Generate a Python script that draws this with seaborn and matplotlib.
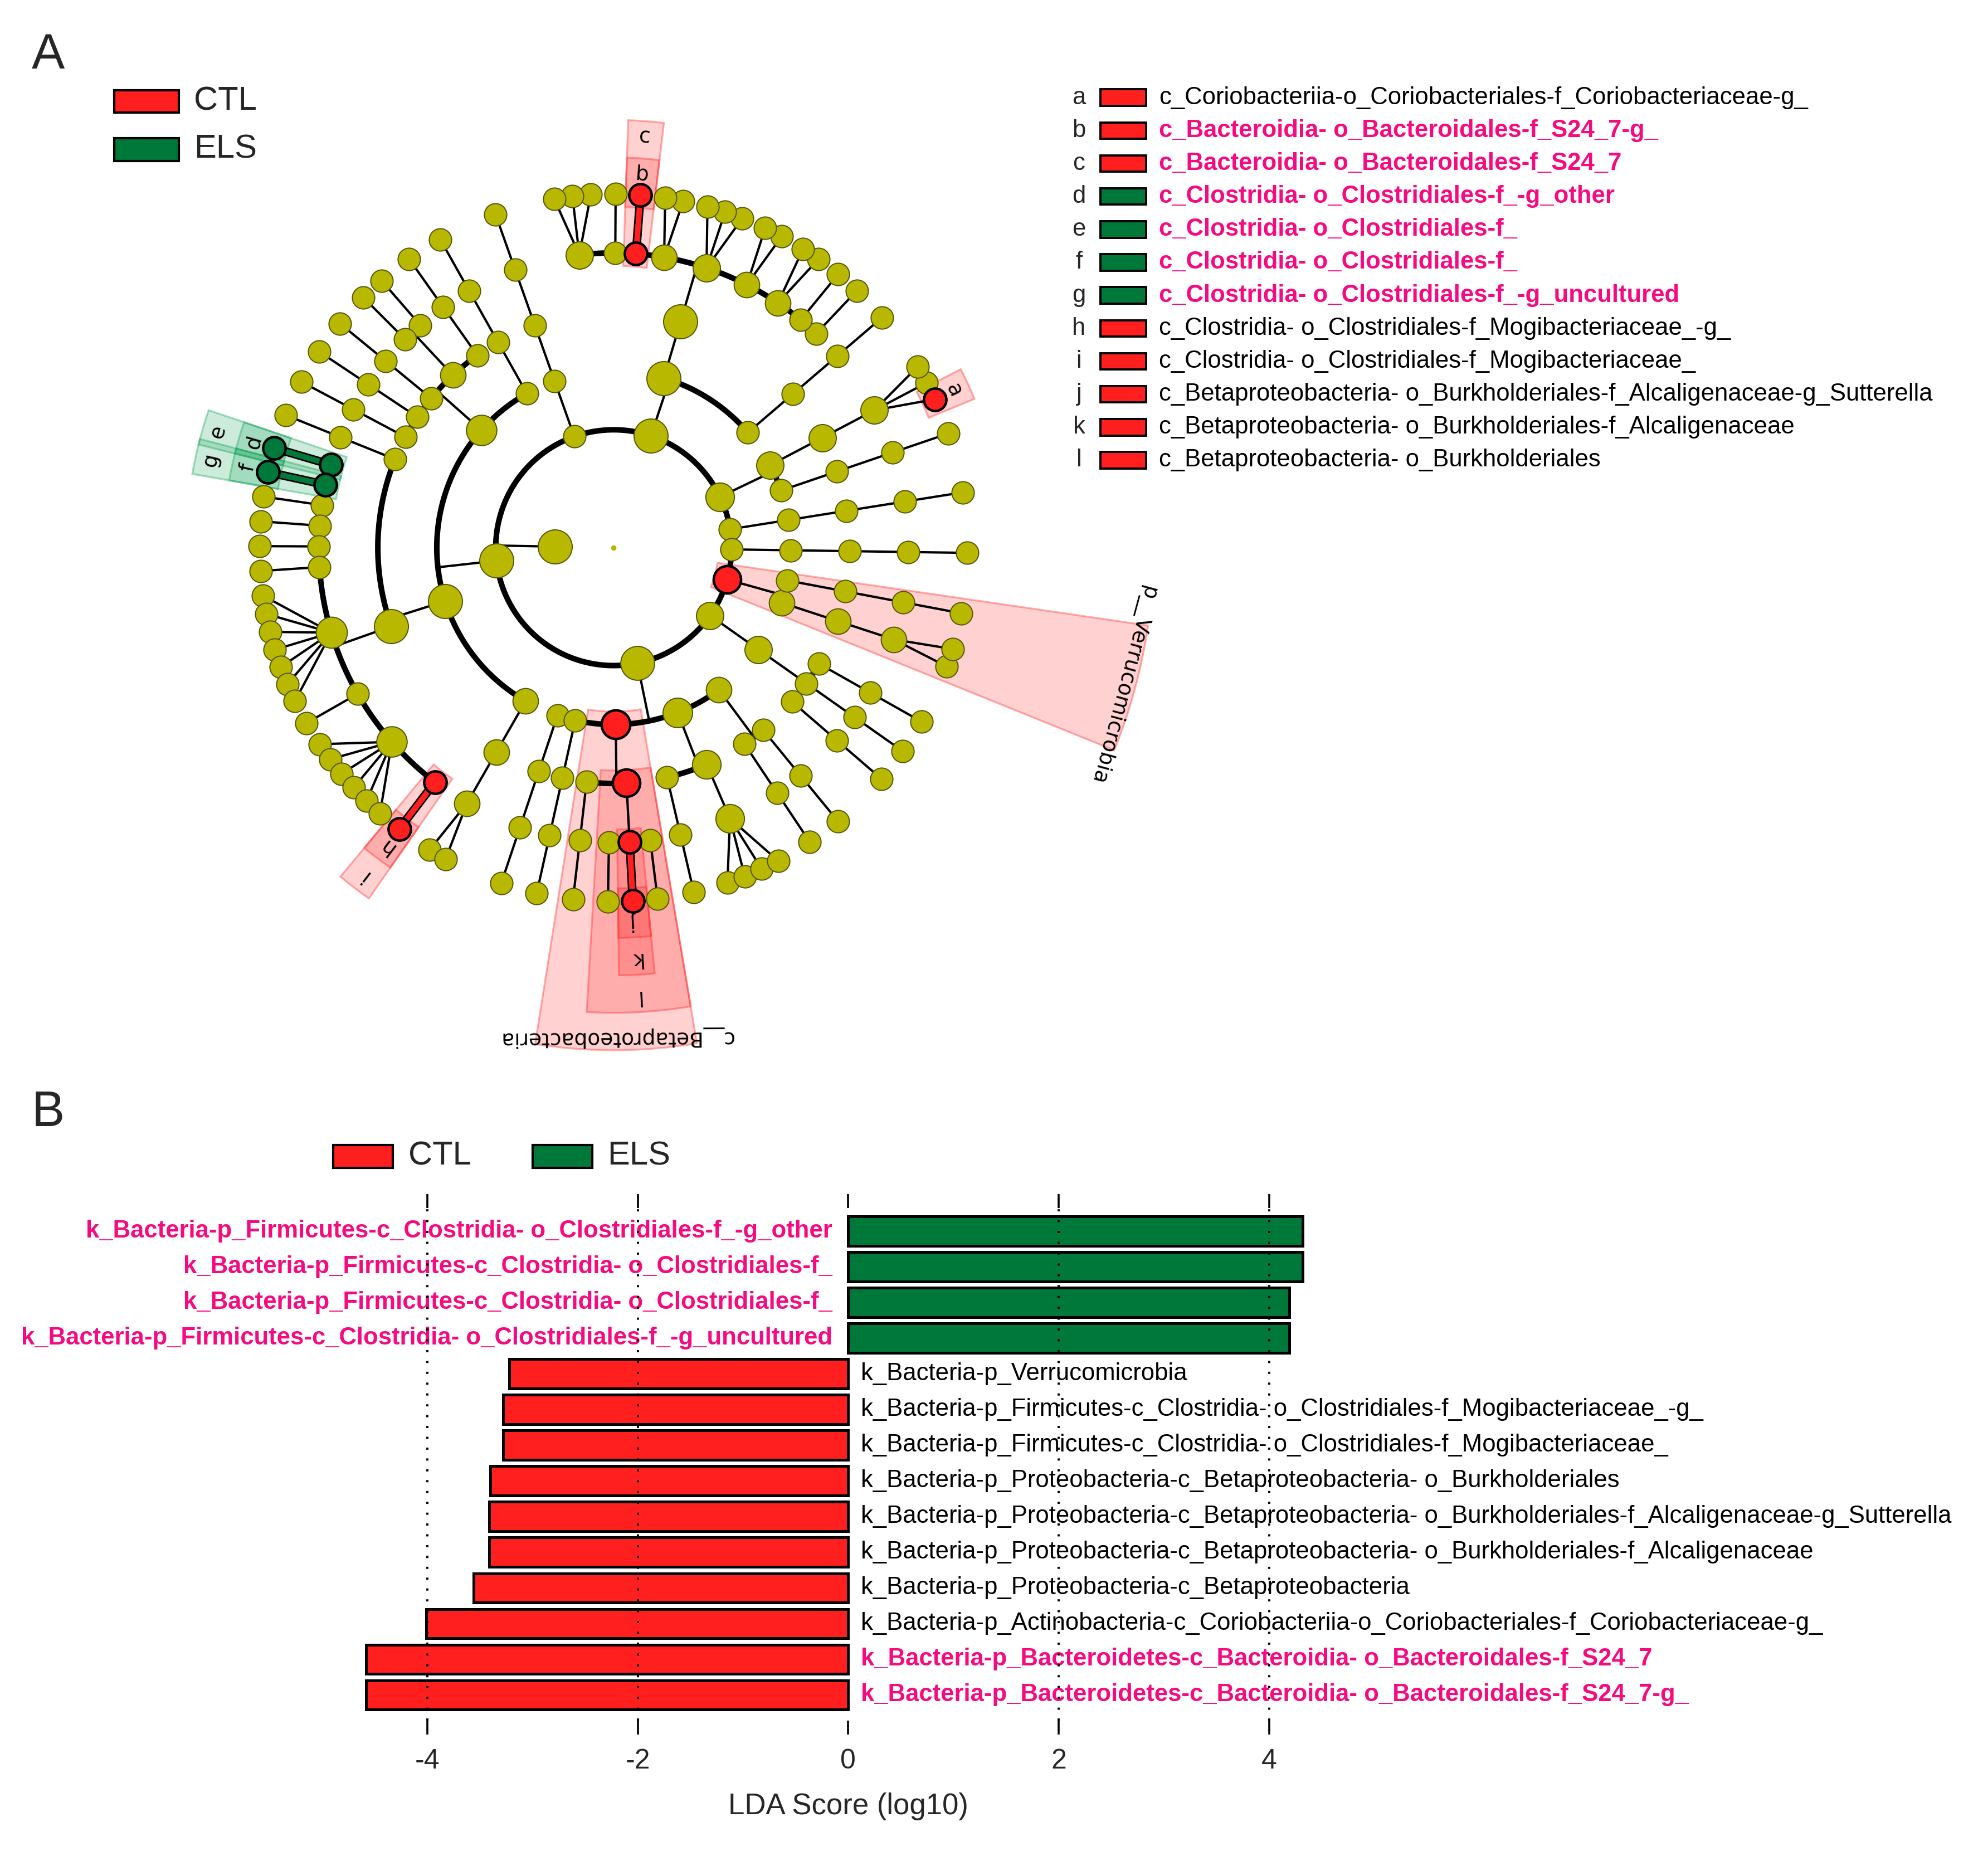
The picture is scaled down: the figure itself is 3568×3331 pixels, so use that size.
"""
LEfSe result figure: (A) cladogram of discriminative taxa, (B) LDA score bars.
Writes out.png.
"""

import matplotlib

matplotlib.use("Agg")
import matplotlib.pyplot as plt
import numpy as np
import pandas as pd
import seaborn as sns
from matplotlib.patches import Rectangle, Wedge
from matplotlib.transforms import blended_transform_factory

sns.set_theme(style="white")
plt.rcParams["font.family"] = ["Liberation Sans", "DejaVu Sans"]

CTL_RED = "#ff1f1f"
ELS_GREEN = "#00783a"
NODE_YELLOW = "#b8b800"
MAGENTA = "#f50a80"
GROUP_COLORS = {"CTL": CTL_RED, "ELS": ELS_GREEN}

# ----------------------------------------------------------------------
# Data: taxonomy tree (phylum -> class -> order -> family -> n genera)
# ----------------------------------------------------------------------
PHYLA = ["unclassified_1", "Actinobacteria", "Bacteroidetes", "unclassified_2",
         "Firmicutes", "Proteobacteria", "Tenericutes", "Verrucomicrobia",
         "unclassified_3"]
CLADE_UNCL_1 = [[[1]]]
CLADE_ACTINO = [[[1]], [[3]]]
CLADE_BACTERO = [[[1]], [[1, 1, 2, 2, 3, 2, 1, 1, 3]]]
CLADE_UNCL_2 = [[[1]]]
CLADE_FIRMI = [[[1]], [[1], [1, 1], [1], [1], [1]],
               [[1], [1, 1, 1, 1, 1, 1, 7, 1, 6, 1]], [[2]]]
CLADE_PROTEO = [[[1]], [[1]], [[1], [1, 1, 1]], [[1], [4]], [[1], [1]]]
CLADE_TENERI = [[[1], [1], [1]]]
CLADE_VERRUCO = [[[2]], [[1]]]
CLADE_UNCL_3 = [[[1]]]
CLADES = [CLADE_UNCL_1, CLADE_ACTINO, CLADE_BACTERO, CLADE_UNCL_2, CLADE_FIRMI,
          CLADE_PROTEO, CLADE_TENERI, CLADE_VERRUCO, CLADE_UNCL_3]

# biomarkers on the cladogram
MARK_TAGS = list("abcdefghijkl") + ["p__Verrucomicrobia", "c__Betaproteobacteria"]
MARK_PATHS = [
    ("Actinobacteria", 1, 0, 0, 0),
    ("Bacteroidetes", 1, 0, 6, 0),
    ("Bacteroidetes", 1, 0, 6),
    ("Firmicutes", 2, 1, 0, 0),
    ("Firmicutes", 2, 1, 0),
    ("Firmicutes", 2, 1, 1, 0),
    ("Firmicutes", 2, 1, 1),
    ("Firmicutes", 2, 1, 9, 0),
    ("Firmicutes", 2, 1, 9),
    ("Proteobacteria", 2, 1, 1, 0),
    ("Proteobacteria", 2, 1, 1),
    ("Proteobacteria", 2, 1),
    ("Verrucomicrobia",),
    ("Proteobacteria", 2),
]
MARK_GROUPS = ["CTL", "CTL", "CTL", "ELS", "ELS", "ELS", "ELS",
               "CTL", "CTL", "CTL", "CTL", "CTL", "CTL", "CTL"]

# key next to the cladogram
KEY_NAMES = [
    "c_Coriobacteriia-o_Coriobacteriales-f_Coriobacteriaceae-g_",
    "c_Bacteroidia- o_Bacteroidales-f_S24_7-g_",
    "c_Bacteroidia- o_Bacteroidales-f_S24_7",
    "c_Clostridia- o_Clostridiales-f_-g_other",
    "c_Clostridia- o_Clostridiales-f_",
    "c_Clostridia- o_Clostridiales-f_",
    "c_Clostridia- o_Clostridiales-f_-g_uncultured",
    "c_Clostridia- o_Clostridiales-f_Mogibacteriaceae_-g_",
    "c_Clostridia- o_Clostridiales-f_Mogibacteriaceae_",
    "c_Betaproteobacteria- o_Burkholderiales-f_Alcaligenaceae-g_Sutterella",
    "c_Betaproteobacteria- o_Burkholderiales-f_Alcaligenaceae",
    "c_Betaproteobacteria- o_Burkholderiales",
]
KEY_HIGHLIGHT = [False, True, True, True, True, True, True,
                 False, False, False, False, False]

# LDA bars
BAR_LABELS = [
    "k_Bacteria-p_Firmicutes-c_Clostridia- o_Clostridiales-f_-g_other",
    "k_Bacteria-p_Firmicutes-c_Clostridia- o_Clostridiales-f_",
    "k_Bacteria-p_Firmicutes-c_Clostridia- o_Clostridiales-f_",
    "k_Bacteria-p_Firmicutes-c_Clostridia- o_Clostridiales-f_-g_uncultured",
    "k_Bacteria-p_Verrucomicrobia",
    "k_Bacteria-p_Firmicutes-c_Clostridia- o_Clostridiales-f_Mogibacteriaceae_-g_",
    "k_Bacteria-p_Firmicutes-c_Clostridia- o_Clostridiales-f_Mogibacteriaceae_",
    "k_Bacteria-p_Proteobacteria-c_Betaproteobacteria- o_Burkholderiales",
    "k_Bacteria-p_Proteobacteria-c_Betaproteobacteria- o_Burkholderiales-f_Alcaligenaceae-g_Sutterella",
    "k_Bacteria-p_Proteobacteria-c_Betaproteobacteria- o_Burkholderiales-f_Alcaligenaceae",
    "k_Bacteria-p_Proteobacteria-c_Betaproteobacteria",
    "k_Bacteria-p_Actinobacteria-c_Coriobacteriia-o_Coriobacteriales-f_Coriobacteriaceae-g_",
    "k_Bacteria-p_Bacteroidetes-c_Bacteroidia- o_Bacteroidales-f_S24_7",
    "k_Bacteria-p_Bacteroidetes-c_Bacteroidia- o_Bacteroidales-f_S24_7-g_",
]
BAR_LDA = [4.32, 4.32, 4.19, 4.19, -3.22, -3.28, -3.28, -3.40, -3.41, -3.41,
           -3.56, -4.01, -4.58, -4.58]
BAR_GROUP = ["ELS"] * 4 + ["CTL"] * 10
BAR_HIGHLIGHT = [True] * 4 + [False] * 8 + [True] * 2

# ----------------------------------------------------------------------
# Layout settings
# ----------------------------------------------------------------------
W, H, DPI = 3568, 3331, 200
REF_W, REF_H = 1568, 1464          # layout grid used for placing things
CENTER = (484, 432)                 # cladogram centre on that grid
LEVEL_PX = 46.5                     # ring spacing on that grid
START_ANGLE = 9.0
STEP_WEIGHT = [3.3, 2.0, 1.9, 1.35, 1.0]   # new phylum / class / order / family / genus
TXT = 15.7


def fx(x):
    return x / REF_W


def fy(y):
    return 1 - y / REF_H


def to_xy(theta, r):
    t = np.radians(theta)
    return r * np.cos(t), r * np.sin(t)


# ----------------------------------------------------------------------
# Build tree
# ----------------------------------------------------------------------
nodes = {}


def add(path, level, sub):
    nodes[path] = {"level": level, "children": []}
    if level == 4:
        kids = [(path + (g,), 5, None) for g in range(sub)]
    else:
        kids = [(path + (i,), level + 1, s) for i, s in enumerate(sub)]
    for cp, lv, s in kids:
        if lv == 5:
            nodes[cp] = {"level": 5, "children": []}
        else:
            add(cp, lv, s)
        nodes[path]["children"].append(cp)


nodes[()] = {"level": 0, "children": []}
for name, clade in zip(PHYLA, CLADES):
    add((name,), 1, clade)
    nodes[()]["children"].append((name,))

leaves = [p for p, nd in nodes.items() if nd["level"] == 5]
units, cum, prev = [], 0.0, None
for p in leaves:
    if prev is not None:
        d = next(i for i in range(5) if p[i] != prev[i])
        cum += STEP_WEIGHT[d]
    units.append(cum)
    prev = p
deg_per_unit = 360.0 / (cum + STEP_WEIGHT[0])
theta = {p: START_ANGLE + u * deg_per_unit for p, u in zip(leaves, units)}


def leaf_list(path):
    nd = nodes[path]
    if not nd["children"]:
        return [path]
    out = []
    for c in nd["children"]:
        out += leaf_list(c)
    return out


leaves_under = {p: leaf_list(p) for p in nodes}
for p in nodes:
    if p not in theta:
        theta[p] = float(np.mean([theta[l] for l in leaves_under[p]]))

marks = {p: (t, g) for p, t, g in zip(MARK_PATHS, MARK_TAGS, MARK_GROUPS)}

# ----------------------------------------------------------------------
# Figure
# ----------------------------------------------------------------------
fig = plt.figure(figsize=(W / DPI, H / DPI), dpi=DPI)
fig.patch.set_facecolor("white")

# cladogram axes spans the whole figure, units = ring spacing
ax = fig.add_axes([0, 0, 1, 1])
ax.set_xlim(-CENTER[0] / LEVEL_PX, (REF_W - CENTER[0]) / LEVEL_PX)
ax.set_ylim(-(REF_H - CENTER[1]) / LEVEL_PX, CENTER[1] / LEVEL_PX)
ax.axis("off")

ARC_LW, LINE_LW = 3.6, 1.5

# shaded wedges + labels
for path, (tag, grp) in marks.items():
    r_node = nodes[path]["level"] + 1
    lv = [theta[l] for l in leaves_under[path]]
    pad = 2.4
    t0, t1 = min(lv) - pad, max(lv) + pad
    r_out = 6.62 + 0.635 * (6 - r_node)
    r_in = r_node - 0.22
    base = (1.0, 0.1, 0.1) if grp == "CTL" else (0.0, 0.62, 0.3)
    ax.add_patch(Wedge((0, 0), r_out, t0, t1, width=r_out - r_in,
                       facecolor=base + (0.2,), edgecolor=base + (0.35,),
                       lw=1.2, zorder=1))
    tm = 0.5 * (t0 + t1)
    r_lab = r_out - (0.27 if len(tag) == 1 else 0.22)
    x, y = to_xy(tm, r_lab)
    ax.text(x, y, tag, rotation=tm - 90, rotation_mode="anchor",
            ha="center", va="center", fontsize=13.5, family="DejaVu Sans",
            color="black", zorder=4)

# branches
for path, nd in nodes.items():
    ch = nd["children"]
    if not ch:
        continue
    r0 = nd["level"] + 1
    r1 = r0 + 1
    x0, y0 = to_xy(theta[path], r0)
    if nodes[ch[0]]["level"] == 5 or len(ch) == 1:
        for c in ch:
            x1, y1 = to_xy(theta[c], r1)
            if path in marks and c in marks and marks[path][1] == marks[c][1]:
                col = GROUP_COLORS[marks[c][1]]
                ax.plot([x0, x1], [y0, y1], color="black", lw=5.6,
                        solid_capstyle="butt", zorder=2.1)
                ax.plot([x0, x1], [y0, y1], color=col, lw=3.6,
                        solid_capstyle="butt", zorder=2.2)
            else:
                ax.plot([x0, x1], [y0, y1], color="black", lw=LINE_LW, zorder=2)
    else:
        ts = [theta[c] for c in ch]
        arc = np.linspace(min(ts), max(ts), 400)
        ax.plot(*to_xy(arc, r1), color="black", lw=ARC_LW,
                solid_capstyle="round", zorder=2)
        x1, y1 = to_xy(theta[path], r1)
        ax.plot([x0, x1], [y0, y1], color="black", lw=LINE_LW, zorder=2)

# nodes
for path, nd in nodes.items():
    r = nd["level"] + 1
    x, y = to_xy(theta[path], r)
    n = len(leaves_under[path])
    d = min(14.5 + 2.0 * np.log2(n), 22.0)
    if path in marks:
        ax.scatter([x], [y], s=d ** 2, color=GROUP_COLORS[marks[path][1]],
                   edgecolors="black", linewidths=1.6, zorder=3.5)
    else:
        ax.scatter([x], [y], s=d ** 2, color=NODE_YELLOW,
                   edgecolors="#55550f", linewidths=0.7, zorder=3)
ax.scatter([0], [0], s=3.5 ** 2, color=NODE_YELLOW, linewidths=0, zorder=3)


# ----------------------------------------------------------------------
# Keys / legends (figure coordinates)
# ----------------------------------------------------------------------
def box(x0, y0, x1, y1, color, lw=1.5):
    fig.add_artist(Rectangle((fx(x0), fy(y1)), fx(x1) - fx(x0), fy(y0) - fy(y1),
                             transform=fig.transFigure, facecolor=color,
                             edgecolor="black", lw=lw, zorder=5))


fig.text(fx(38), fy(44), "A", ha="center", va="center", fontsize=32)
fig.text(fx(38), fy(878), "B", ha="center", va="center", fontsize=32)

for i, grp in enumerate(["CTL", "ELS"]):
    yc = 80 + 38 * i
    box(90, yc - 9, 141, yc + 9, GROUP_COLORS[grp])
    fig.text(fx(153), fy(yc), grp, ha="left", va="center", fontsize=21.5)

for i, grp in enumerate(["CTL", "ELS"]):
    xb = 263 + 157 * i
    box(xb, 903, xb + 47, 921, GROUP_COLORS[grp])
    fig.text(fx(xb + 59), fy(912), grp, ha="left", va="center", fontsize=21.5)

for i, (tag, name, hl) in enumerate(zip(MARK_TAGS[:12], KEY_NAMES, KEY_HIGHLIGHT)):
    yc = 77 + 26 * i
    fig.text(fx(851), fy(yc), tag, ha="center", va="center", fontsize=TXT)
    box(868, yc - 6.5, 904, yc + 6.5, GROUP_COLORS[MARK_GROUPS[i]], lw=1.4)
    fig.text(fx(914), fy(yc), name, ha="left", va="center", fontsize=TXT,
             color=MAGENTA if hl else "black",
             fontweight="bold" if hl else "normal")

# ----------------------------------------------------------------------
# B: LDA bar chart
# ----------------------------------------------------------------------
ZERO_X, UNIT_PX = 669, 83
ROW0_Y, ROW_PX = 971, 28.15
AX_TOP, AX_BOT = 953, 1357

df = pd.DataFrame({"row": np.arange(len(BAR_LDA)), "lda": BAR_LDA,
                   "group": BAR_GROUP})
axb = fig.add_axes([0, fy(AX_BOT), 1, fy(AX_TOP) - fy(AX_BOT)])
axb.patch.set_alpha(0)
sns.barplot(data=df, x="lda", y="row", hue="group", palette=GROUP_COLORS,
            orient="h", dodge=False, width=0.82, edgecolor="black",
            linewidth=1.8, saturation=1, legend=False, ax=axb)
axb.set_xlim(-ZERO_X / UNIT_PX, (REF_W - ZERO_X) / UNIT_PX)
axb.set_ylim((AX_BOT - ROW0_Y) / ROW_PX, (AX_TOP - ROW0_Y) / ROW_PX)
for s in axb.spines.values():
    s.set_visible(False)
ticks = [-4, -2, 0, 2, 4]
axb.set_xticks(ticks)
axb.set_xticklabels([str(t) for t in ticks])
axb.set_yticks([])
axb.set_xlabel("")
axb.set_ylabel("")
axb.tick_params(axis="x", direction="out", length=9, width=1.3, top=True,
                bottom=True, labeltop=False, labelsize=18, pad=9, color="black")
for t in ticks:
    if t != 0:
        axb.axvline(t, color="black", lw=1.4, linestyle=(0, (1, 4)), zorder=5)

for i, (lab, v, hl) in enumerate(zip(BAR_LABELS, BAR_LDA, BAR_HIGHLIGHT)):
    kw = dict(va="center", fontsize=TXT, clip_on=False,
              color=MAGENTA if hl else "black",
              fontweight="bold" if hl else "normal")
    if v > 0:
        axb.text(-0.15, i, lab, ha="right", **kw)
    else:
        axb.text(0.12, i, lab, ha="left", **kw)

trans = blended_transform_factory(axb.transData, axb.transAxes)
axb.text(0, -(1425 - AX_BOT) / (AX_BOT - AX_TOP), "LDA Score (log10)",
         transform=trans, ha="center", va="center", fontsize=19)

fig.savefig("out.png", dpi=DPI, facecolor="white")
